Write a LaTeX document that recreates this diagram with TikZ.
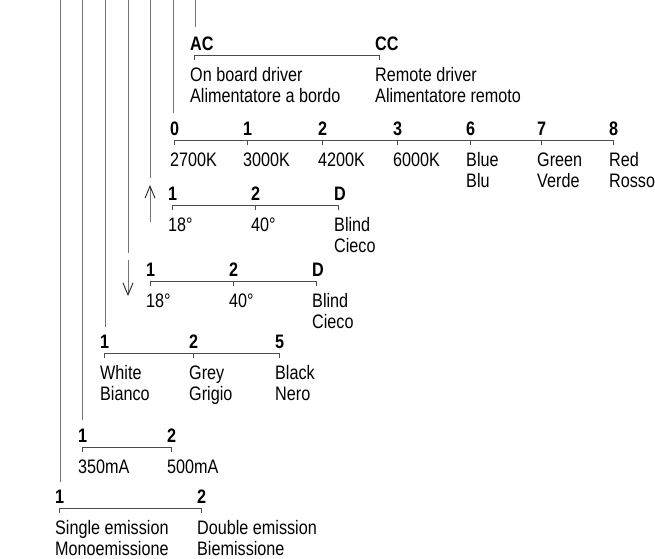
\documentclass[tikz,border=0pt]{standalone}
\usepackage{fontspec}
\setmainfont{Liberation Sans}[FakeStretch=0.83]
\usetikzlibrary{arrows.meta}
\newcommand\codefont{\fontsize{19.5}{21}\selectfont}
\newcommand\twolines[1]{\begin{tabular}[t]{@{}l@{}}#1\end{tabular}}

\begin{document}
\begin{tikzpicture}[
    x=1pt, y=-1pt,
    guide/.style={draw=black!55, line width=0.9pt},
    bar/.style={draw=black!70, line width=0.9pt},
    flow/.style={guide, -{Straight Barb[length=12pt, width=10pt, color=black!85]}},
    code/.style={anchor=base west, inner sep=0pt, xshift=-4pt, font=\codefont\bfseries},
    info/.style={anchor=base west, inner sep=0pt, xshift=-4pt, font=\codefont}
  ]
    \useasboundingbox (0,0) rectangle (655,558);

    % guide lines from the top edge
    \foreach \n/\x/\y in {emi/60/482, cur/82/420, col/105/327, optb/128/253, opta/150/178, cct/173/113, drv/195/27}
      \draw[guide] (\x,0) coordinate (\n-top) -- (\x,\y) coordinate (\n-end);
    \draw[flow] (150,222) coordinate (up-tail) -- (150,185) coordinate (up-tip);
    \draw[flow] (128,260) coordinate (dn-tail) -- (128,296) coordinate (dn-tip);

    % driver
    \foreach \x/\k/\t [count=\i] in {194/AC/{On board driver\\Alimentatore a bordo}, 379/CC/{Remote driver\\Alimentatore remoto}} {
      \coordinate (drv\i) at (\x,55);
      \draw[bar] (drv\i) -- ++(0,5);
      \node[code] (drv-k\i) at (\x,50) {\k};
      \node[info] (drv-t\i) at (\x,81) {\twolines{\t}};
    }
    \draw[bar] (drv1) -- (drv2);

    % colour temperature
    \foreach \x/\k/\t [count=\i] in {174/0/2700K, 247/1/3000K, 322/2/4200K, 397/3/6000K, 470/6/{Blue\\Blu}, 541/7/{Green\\Verde}, 613/8/{Red\\Rosso}} {
      \coordinate (cct\i) at (\x,140);
      \draw[bar] (cct\i) -- ++(0,5);
      \node[code] (cct-k\i) at (\x,135) {\k};
      \node[info] (cct-t\i) at (\x,166) {\twolines{\t}};
    }
    \draw[bar] (cct1) -- (cct7);

    % optic, upper
    \foreach \x/\k/\t [count=\i] in {172/1/18°, 255/2/40°, 338/D/{Blind\\Cieco}} {
      \coordinate (opta\i) at (\x,205);
      \draw[bar] (opta\i) -- ++(0,5);
      \node[code] (opta-k\i) at (\x,200) {\k};
      \node[info] (opta-t\i) at (\x,231) {\twolines{\t}};
    }
    \draw[bar] (opta1) -- (opta3);

    % optic, lower
    \foreach \x/\k/\t [count=\i] in {150/1/18°, 233/2/40°, 316/D/{Blind\\Cieco}} {
      \coordinate (optb\i) at (\x,281);
      \draw[bar] (optb\i) -- ++(0,5);
      \node[code] (optb-k\i) at (\x,276) {\k};
      \node[info] (optb-t\i) at (\x,307) {\twolines{\t}};
    }
    \draw[bar] (optb1) -- (optb3);

    % finish
    \foreach \x/\k/\t [count=\i] in {104/1/{White\\Bianco}, 193/2/{Grey\\Grigio}, 279/5/{Black\\Nero}} {
      \coordinate (col\i) at (\x,353);
      \draw[bar] (col\i) -- ++(0,5);
      \node[code] (col-k\i) at (\x,348) {\k};
      \node[info] (col-t\i) at (\x,379) {\twolines{\t}};
    }
    \draw[bar] (col1) -- (col3);

    % current
    \foreach \x/\k/\t [count=\i] in {82/1/350mA, 171/2/500mA} {
      \coordinate (cur\i) at (\x,447);
      \draw[bar] (cur\i) -- ++(0,5);
      \node[code] (cur-k\i) at (\x,442) {\k};
      \node[info] (cur-t\i) at (\x,473) {\twolines{\t}};
    }
    \draw[bar] (cur1) -- (cur2);

    % emission
    \foreach \x/\k/\t [count=\i] in {59/1/{Single emission\\Monoemissione}, 201/2/{Double emission\\Biemissione}} {
      \coordinate (emi\i) at (\x,508);
      \draw[bar] (emi\i) -- ++(0,5);
      \node[code] (emi-k\i) at (\x,503) {\k};
      \node[info] (emi-t\i) at (\x,534) {\twolines{\t}};
    }
    \draw[bar] (emi1) -- (emi2);
  \end{tikzpicture}
\end{document}
